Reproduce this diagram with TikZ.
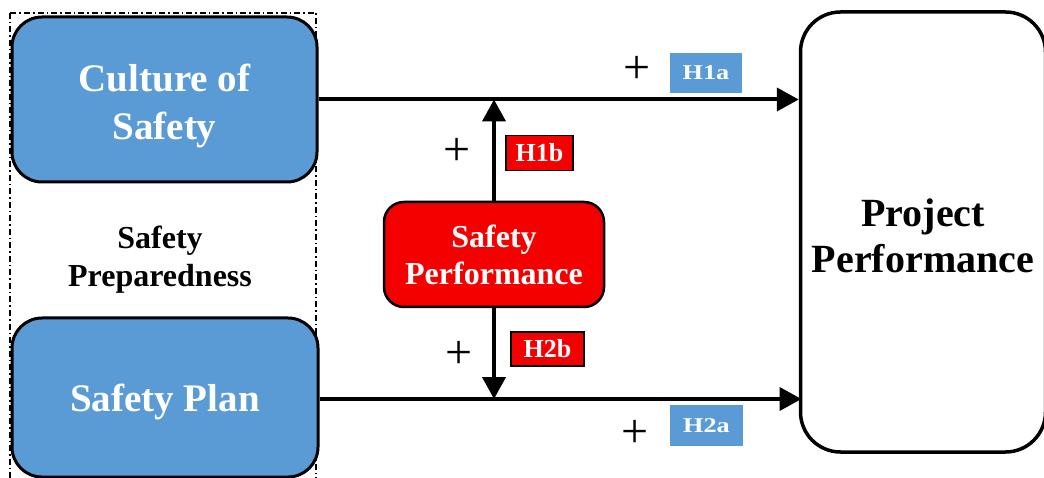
\documentclass[tikz,border=0pt]{standalone}
\usepackage{fontspec}
\setmainfont{Liberation Serif}
\usetikzlibrary{arrows.meta}
\definecolor{boxblue}{RGB}{91,155,213}
\definecolor{boxred}{RGB}{245,0,0}
\tikzset{
  bluebox/.style={draw=black, line width=3pt, fill=boxblue,
    rounded corners=30pt, inner sep=0pt},
  bluetext/.style={text=white, font=\fontsize{39}{48}\selectfont\bfseries,
    align=center, inner sep=0pt},
  redbox/.style={draw=black, line width=2.5pt, fill=boxred, text=white,
    font=\fontsize{32}{37}\selectfont\bfseries, align=center,
    rounded corners=20pt, inner sep=0pt,
    minimum width=220pt, minimum height=105pt},
  outbox/.style={draw=black, line width=3.5pt, fill=white,
    rounded corners=40pt, inner sep=0pt,
    minimum width=245pt, minimum height=440pt},
  outtext/.style={text=black, font=\fontsize{40}{46}\selectfont\bfseries,
    align=center, inner sep=0pt},
  groupframe/.style={draw=black, line width=1.4pt,
    dash pattern=on 6pt off 3pt on 1.5pt off 3pt},
  grouplabel/.style={text=black, font=\fontsize{32}{38}\selectfont\bfseries,
    align=center},
  link/.style={line width=4pt, -{Triangle[length=22pt,width=23pt]}},
  hyplabelA/.style={fill=boxblue, text=white, inner sep=0pt,
    minimum width=72pt, minimum height=40pt,
    font=\fontsize{21}{21}\selectfont\bfseries},
  hyplabelB/.style={draw=black, line width=1.5pt, fill=boxred, text=white,
    inner sep=0pt, minimum height=35pt,
    font=\fontsize{26}{26}\selectfont\bfseries},
  plus/.style={text=black, font=\fontsize{48}{48}\selectfont, inner sep=0pt}
}
\begin{document}
\begin{tikzpicture}[x=1pt, y=-1pt]
  \useasboundingbox (0,0) rectangle (1044,478);
  \clip (0,0) rectangle (1044,478);

  % group frame around the two preparedness factors
  \draw[groupframe] (10,13) rectangle (316,500);

  % factor boxes
  \node[bluebox, minimum width=305pt, minimum height=165pt,
    label={[bluetext, yshift=-6pt]center:Culture of\\Safety}]
    (culture) at (164.5,99.5) {};
  \node[bluebox, minimum width=306pt, minimum height=159pt,
    label={[bluetext, yshift=-4pt]center:Safety Plan}]
    (plan) at (165,397.5) {};
  \node[grouplabel] (prep) at (160,260) {Safety\\Preparedness};

  % mediator and outcome
  \node[redbox] (sp) at (494,254.5) {Safety\\Performance};
  \node[outbox, label={[outtext, yshift=-4pt]center:Project\\Performance}]
    (proj) at (923,232) {};

  % direct paths
  \draw[link] (culture.east) -- (culture.east -| proj.west);
  \draw[link] (plan.east) ++(0,1.5) -- ++(482,0) coordinate (planend);

  % mediated paths
  \draw[link] (sp.north) -- (sp.north |- culture.east);
  \draw[link] (sp.south) -- (sp.south |- planend);

  % hypothesis labels
  \node[hyplabelA] (h1a) at (706,73) {\scalebox{1.25}[1]{H1a}};
  \node[hyplabelA, minimum width=73pt, minimum height=41pt]
    (h2a) at (706.5,425.5) {\scalebox{1.25}[1]{H2a}};
  \node[hyplabelB, minimum width=67pt] (h1b) at (539.5,153) {H1b};
  \node[hyplabelB, minimum width=73pt, minimum height=34pt]
    (h2b) at (547.5,349) {H2b};

  % signs
  \node[plus] (p1a) at (637,70) {+};
  \node[plus] (p1b) at (457,152) {+};
  \node[plus] (p2b) at (459,355) {+};
  \node[plus] (p2a) at (635,434) {+};
\end{tikzpicture}
\end{document}
